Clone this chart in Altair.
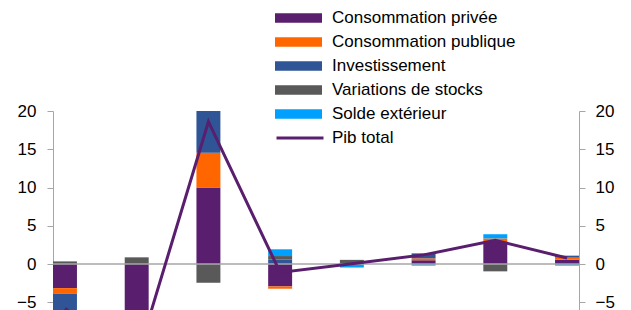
import altair as alt
import pandas as pd

quarters = ["T1 2020", "T2 2020", "T3 2020", "T4 2020", "T1 2021", "T2 2021", "T3 2021", "T4 2021"]
series = ["Consommation privée", "Consommation publique", "Investissement",
          "Variations de stocks", "Solde extérieur"]
colors = ["#5A1E6E", "#FF6600", "#2F5597", "#595959", "#00A0FF"]

conso_privee = [-3.14, -6.1, 10.0, -2.92, 0.0, 0.5, 2.97, 0.58]
conso_publique = [-0.74, -2.4, 4.55, -0.3, 0.0, 0.25, 0.38, 0.26]
investissement = [-2.2, -3.5, 5.55, 0.58, 0.0, 0.65, 0.0, 0.26]
stocks = [0.35, 0.88, -2.44, 0.47, 0.55, 0.0, -0.95, 0.0]
solde = [-0.1, -1.2, 0.9, 0.88, -0.45, -0.2, 0.55, -0.2]
pib = [-5.8, -12.4, 18.6, -1.1, 0.05, 1.2, 3.1, 0.8]

values = [conso_privee, conso_publique, investissement, stocks, solde]
rows = []
for si, (name, vals) in enumerate(zip(series, values)):
    for q, v in zip(quarters, vals):
        rows.append({"trimestre": q, "serie": name, "ordre": si, "valeur": v})
bars_df = pd.DataFrame(rows)
line_df = pd.DataFrame({"trimestre": quarters, "valeur": pib, "nom": ["Pib total"] * len(quarters)})

FONT = "Liberation Sans"
AXIS_GREY = "#A6A6A6"

x_enc = alt.X("trimestre:N", sort=quarters, axis=None,
              scale=alt.Scale(paddingInner=0.666, paddingOuter=0))
y_scale = alt.Scale(domain=[-6, 20], nice=False, zero=False)

def y_axis(orient, pad):
    return alt.Axis(orient=orient, values=[-5, 0, 5, 10, 15, 20], title=None, grid=False,
                    domainColor=AXIS_GREY, tickColor=AXIS_GREY, tickSize=6, labelPadding=pad,
                    labelFont=FONT, labelFontSize=17, labelColor="#000000",
                    labelFlush=False, labelOverlap=False)

bars = alt.Chart(bars_df).mark_bar(clip=True).encode(
    x=x_enc,
    y=alt.Y("valeur:Q", stack="zero", scale=y_scale, axis=y_axis("left", 11)),
    fill=alt.Fill("serie:N", sort=series,
                  scale=alt.Scale(domain=series, range=colors),
                  legend=alt.Legend(title=None, orient="none", legendX=222, legendY=-105,
                                    symbolType="M-1,-0.2L1,-0.2L1,0.2L-1,0.2Z", symbolSize=2209,
                                    symbolStrokeWidth=0, labelFont=FONT, labelFontSize=17,
                                    labelColor="#000000", labelLimit=400, clipHeight=24,
                                    rowPadding=0, labelOffset=10, padding=0)),
    order=alt.Order("ordre:Q", sort="ascending"),
)

zero = alt.Chart(pd.DataFrame({"z": [0]})).mark_rule(color=AXIS_GREY, strokeWidth=1.5).encode(
    y=alt.Y("z:Q", scale=y_scale, axis=None)
)

line = alt.Chart(line_df).mark_line(strokeWidth=3, clip=True).encode(
    x=x_enc,
    y=alt.Y("valeur:Q", scale=y_scale, axis=y_axis("right", 10)),
    stroke=alt.Stroke("nom:N", scale=alt.Scale(domain=["Pib total"], range=["#5A1E6E"]),
                      legend=alt.Legend(title=None, orient="none", legendX=222, legendY=15,
                                        symbolType="stroke", symbolSize=2209, symbolStrokeWidth=3,
                                        labelFont=FONT, labelFontSize=17, labelColor="#000000",
                                        labelLimit=400, clipHeight=24, rowPadding=0,
                                        labelOffset=7, padding=0)),
)

chart = alt.layer(bars, zero, line).resolve_axis(y="independent").properties(
    width=526, height=199,
    autosize=alt.AutoSizeParams(type="none"),
    padding={"left": 45, "top": 103, "right": 44, "bottom": 0},
).configure_view(stroke=None)

chart.save("out.html", embed_options={"renderer": "svg", "actions": False})
